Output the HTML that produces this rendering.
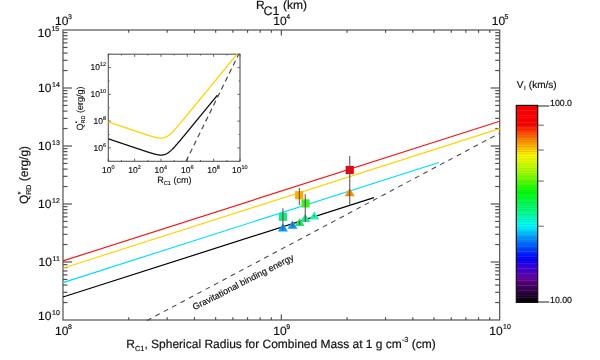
<!DOCTYPE html>
<html><head><meta charset="utf-8"><title>Q*RD vs RC1</title>
<style>
html,body{margin:0;padding:0;background:#fff;}
body{width:600px;height:360px;overflow:hidden;font-family:'Liberation Sans', sans-serif;}
svg{display:block;}
svg text{font-family:"Liberation Sans",sans-serif;text-rendering:geometricPrecision;stroke:#111;stroke-width:0.18px;}
svg g.sm text{stroke-width:0.14px;}
</style></head>
<body>
<svg width="600" height="360" viewBox="0 0 600 360">
<defs><filter id="soft" x="0" y="0" width="600" height="360" filterUnits="userSpaceOnUse" color-interpolation-filters="sRGB"><feGaussianBlur stdDeviation="0.35"/></filter></defs>
<rect width="600" height="360" fill="#ffffff"/>
<g filter="url(#soft)">
<rect x="63.0" y="30.0" width="436.70" height="290.00" fill="none" stroke="#525252" stroke-width="1.2"/>
<line x1="128.73" y1="320.00" x2="128.73" y2="317.20" stroke="#525252" stroke-width="1.2" />
<line x1="128.73" y1="30.00" x2="128.73" y2="32.80" stroke="#525252" stroke-width="1.2" />
<line x1="167.18" y1="320.00" x2="167.18" y2="317.20" stroke="#525252" stroke-width="1.2" />
<line x1="167.18" y1="30.00" x2="167.18" y2="32.80" stroke="#525252" stroke-width="1.2" />
<line x1="194.46" y1="320.00" x2="194.46" y2="317.20" stroke="#525252" stroke-width="1.2" />
<line x1="194.46" y1="30.00" x2="194.46" y2="32.80" stroke="#525252" stroke-width="1.2" />
<line x1="215.62" y1="320.00" x2="215.62" y2="317.20" stroke="#525252" stroke-width="1.2" />
<line x1="215.62" y1="30.00" x2="215.62" y2="32.80" stroke="#525252" stroke-width="1.2" />
<line x1="232.91" y1="320.00" x2="232.91" y2="317.20" stroke="#525252" stroke-width="1.2" />
<line x1="232.91" y1="30.00" x2="232.91" y2="32.80" stroke="#525252" stroke-width="1.2" />
<line x1="247.53" y1="320.00" x2="247.53" y2="317.20" stroke="#525252" stroke-width="1.2" />
<line x1="247.53" y1="30.00" x2="247.53" y2="32.80" stroke="#525252" stroke-width="1.2" />
<line x1="260.19" y1="320.00" x2="260.19" y2="317.20" stroke="#525252" stroke-width="1.2" />
<line x1="260.19" y1="30.00" x2="260.19" y2="32.80" stroke="#525252" stroke-width="1.2" />
<line x1="271.36" y1="320.00" x2="271.36" y2="317.20" stroke="#525252" stroke-width="1.2" />
<line x1="271.36" y1="30.00" x2="271.36" y2="32.80" stroke="#525252" stroke-width="1.2" />
<line x1="281.35" y1="320.00" x2="281.35" y2="314.40" stroke="#525252" stroke-width="1.2" />
<line x1="281.35" y1="30.00" x2="281.35" y2="35.60" stroke="#525252" stroke-width="1.2" />
<line x1="347.08" y1="320.00" x2="347.08" y2="317.20" stroke="#525252" stroke-width="1.2" />
<line x1="347.08" y1="30.00" x2="347.08" y2="32.80" stroke="#525252" stroke-width="1.2" />
<line x1="385.53" y1="320.00" x2="385.53" y2="317.20" stroke="#525252" stroke-width="1.2" />
<line x1="385.53" y1="30.00" x2="385.53" y2="32.80" stroke="#525252" stroke-width="1.2" />
<line x1="412.81" y1="320.00" x2="412.81" y2="317.20" stroke="#525252" stroke-width="1.2" />
<line x1="412.81" y1="30.00" x2="412.81" y2="32.80" stroke="#525252" stroke-width="1.2" />
<line x1="433.97" y1="320.00" x2="433.97" y2="317.20" stroke="#525252" stroke-width="1.2" />
<line x1="433.97" y1="30.00" x2="433.97" y2="32.80" stroke="#525252" stroke-width="1.2" />
<line x1="451.26" y1="320.00" x2="451.26" y2="317.20" stroke="#525252" stroke-width="1.2" />
<line x1="451.26" y1="30.00" x2="451.26" y2="32.80" stroke="#525252" stroke-width="1.2" />
<line x1="465.88" y1="320.00" x2="465.88" y2="317.20" stroke="#525252" stroke-width="1.2" />
<line x1="465.88" y1="30.00" x2="465.88" y2="32.80" stroke="#525252" stroke-width="1.2" />
<line x1="478.54" y1="320.00" x2="478.54" y2="317.20" stroke="#525252" stroke-width="1.2" />
<line x1="478.54" y1="30.00" x2="478.54" y2="32.80" stroke="#525252" stroke-width="1.2" />
<line x1="489.71" y1="320.00" x2="489.71" y2="317.20" stroke="#525252" stroke-width="1.2" />
<line x1="489.71" y1="30.00" x2="489.71" y2="32.80" stroke="#525252" stroke-width="1.2" />
<line x1="63.00" y1="302.54" x2="67.50" y2="302.54" stroke="#525252" stroke-width="1.2" />
<line x1="499.70" y1="302.54" x2="495.20" y2="302.54" stroke="#525252" stroke-width="1.2" />
<line x1="63.00" y1="292.33" x2="67.50" y2="292.33" stroke="#525252" stroke-width="1.2" />
<line x1="499.70" y1="292.33" x2="495.20" y2="292.33" stroke="#525252" stroke-width="1.2" />
<line x1="63.00" y1="285.08" x2="67.50" y2="285.08" stroke="#525252" stroke-width="1.2" />
<line x1="499.70" y1="285.08" x2="495.20" y2="285.08" stroke="#525252" stroke-width="1.2" />
<line x1="63.00" y1="279.46" x2="67.50" y2="279.46" stroke="#525252" stroke-width="1.2" />
<line x1="499.70" y1="279.46" x2="495.20" y2="279.46" stroke="#525252" stroke-width="1.2" />
<line x1="63.00" y1="274.87" x2="67.50" y2="274.87" stroke="#525252" stroke-width="1.2" />
<line x1="499.70" y1="274.87" x2="495.20" y2="274.87" stroke="#525252" stroke-width="1.2" />
<line x1="63.00" y1="270.98" x2="67.50" y2="270.98" stroke="#525252" stroke-width="1.2" />
<line x1="499.70" y1="270.98" x2="495.20" y2="270.98" stroke="#525252" stroke-width="1.2" />
<line x1="63.00" y1="267.62" x2="67.50" y2="267.62" stroke="#525252" stroke-width="1.2" />
<line x1="499.70" y1="267.62" x2="495.20" y2="267.62" stroke="#525252" stroke-width="1.2" />
<line x1="63.00" y1="264.65" x2="67.50" y2="264.65" stroke="#525252" stroke-width="1.2" />
<line x1="499.70" y1="264.65" x2="495.20" y2="264.65" stroke="#525252" stroke-width="1.2" />
<line x1="63.00" y1="262.00" x2="72.00" y2="262.00" stroke="#525252" stroke-width="1.2" />
<line x1="499.70" y1="262.00" x2="490.70" y2="262.00" stroke="#525252" stroke-width="1.2" />
<line x1="63.00" y1="244.54" x2="67.50" y2="244.54" stroke="#525252" stroke-width="1.2" />
<line x1="499.70" y1="244.54" x2="495.20" y2="244.54" stroke="#525252" stroke-width="1.2" />
<line x1="63.00" y1="234.33" x2="67.50" y2="234.33" stroke="#525252" stroke-width="1.2" />
<line x1="499.70" y1="234.33" x2="495.20" y2="234.33" stroke="#525252" stroke-width="1.2" />
<line x1="63.00" y1="227.08" x2="67.50" y2="227.08" stroke="#525252" stroke-width="1.2" />
<line x1="499.70" y1="227.08" x2="495.20" y2="227.08" stroke="#525252" stroke-width="1.2" />
<line x1="63.00" y1="221.46" x2="67.50" y2="221.46" stroke="#525252" stroke-width="1.2" />
<line x1="499.70" y1="221.46" x2="495.20" y2="221.46" stroke="#525252" stroke-width="1.2" />
<line x1="63.00" y1="216.87" x2="67.50" y2="216.87" stroke="#525252" stroke-width="1.2" />
<line x1="499.70" y1="216.87" x2="495.20" y2="216.87" stroke="#525252" stroke-width="1.2" />
<line x1="63.00" y1="212.98" x2="67.50" y2="212.98" stroke="#525252" stroke-width="1.2" />
<line x1="499.70" y1="212.98" x2="495.20" y2="212.98" stroke="#525252" stroke-width="1.2" />
<line x1="63.00" y1="209.62" x2="67.50" y2="209.62" stroke="#525252" stroke-width="1.2" />
<line x1="499.70" y1="209.62" x2="495.20" y2="209.62" stroke="#525252" stroke-width="1.2" />
<line x1="63.00" y1="206.65" x2="67.50" y2="206.65" stroke="#525252" stroke-width="1.2" />
<line x1="499.70" y1="206.65" x2="495.20" y2="206.65" stroke="#525252" stroke-width="1.2" />
<line x1="63.00" y1="204.00" x2="72.00" y2="204.00" stroke="#525252" stroke-width="1.2" />
<line x1="499.70" y1="204.00" x2="490.70" y2="204.00" stroke="#525252" stroke-width="1.2" />
<line x1="63.00" y1="186.54" x2="67.50" y2="186.54" stroke="#525252" stroke-width="1.2" />
<line x1="499.70" y1="186.54" x2="495.20" y2="186.54" stroke="#525252" stroke-width="1.2" />
<line x1="63.00" y1="176.33" x2="67.50" y2="176.33" stroke="#525252" stroke-width="1.2" />
<line x1="499.70" y1="176.33" x2="495.20" y2="176.33" stroke="#525252" stroke-width="1.2" />
<line x1="63.00" y1="169.08" x2="67.50" y2="169.08" stroke="#525252" stroke-width="1.2" />
<line x1="499.70" y1="169.08" x2="495.20" y2="169.08" stroke="#525252" stroke-width="1.2" />
<line x1="63.00" y1="163.46" x2="67.50" y2="163.46" stroke="#525252" stroke-width="1.2" />
<line x1="499.70" y1="163.46" x2="495.20" y2="163.46" stroke="#525252" stroke-width="1.2" />
<line x1="63.00" y1="158.87" x2="67.50" y2="158.87" stroke="#525252" stroke-width="1.2" />
<line x1="499.70" y1="158.87" x2="495.20" y2="158.87" stroke="#525252" stroke-width="1.2" />
<line x1="63.00" y1="154.98" x2="67.50" y2="154.98" stroke="#525252" stroke-width="1.2" />
<line x1="499.70" y1="154.98" x2="495.20" y2="154.98" stroke="#525252" stroke-width="1.2" />
<line x1="63.00" y1="151.62" x2="67.50" y2="151.62" stroke="#525252" stroke-width="1.2" />
<line x1="499.70" y1="151.62" x2="495.20" y2="151.62" stroke="#525252" stroke-width="1.2" />
<line x1="63.00" y1="148.65" x2="67.50" y2="148.65" stroke="#525252" stroke-width="1.2" />
<line x1="499.70" y1="148.65" x2="495.20" y2="148.65" stroke="#525252" stroke-width="1.2" />
<line x1="63.00" y1="146.00" x2="72.00" y2="146.00" stroke="#525252" stroke-width="1.2" />
<line x1="499.70" y1="146.00" x2="490.70" y2="146.00" stroke="#525252" stroke-width="1.2" />
<line x1="63.00" y1="128.54" x2="67.50" y2="128.54" stroke="#525252" stroke-width="1.2" />
<line x1="499.70" y1="128.54" x2="495.20" y2="128.54" stroke="#525252" stroke-width="1.2" />
<line x1="63.00" y1="118.33" x2="67.50" y2="118.33" stroke="#525252" stroke-width="1.2" />
<line x1="499.70" y1="118.33" x2="495.20" y2="118.33" stroke="#525252" stroke-width="1.2" />
<line x1="63.00" y1="111.08" x2="67.50" y2="111.08" stroke="#525252" stroke-width="1.2" />
<line x1="499.70" y1="111.08" x2="495.20" y2="111.08" stroke="#525252" stroke-width="1.2" />
<line x1="63.00" y1="105.46" x2="67.50" y2="105.46" stroke="#525252" stroke-width="1.2" />
<line x1="499.70" y1="105.46" x2="495.20" y2="105.46" stroke="#525252" stroke-width="1.2" />
<line x1="63.00" y1="100.87" x2="67.50" y2="100.87" stroke="#525252" stroke-width="1.2" />
<line x1="499.70" y1="100.87" x2="495.20" y2="100.87" stroke="#525252" stroke-width="1.2" />
<line x1="63.00" y1="96.98" x2="67.50" y2="96.98" stroke="#525252" stroke-width="1.2" />
<line x1="499.70" y1="96.98" x2="495.20" y2="96.98" stroke="#525252" stroke-width="1.2" />
<line x1="63.00" y1="93.62" x2="67.50" y2="93.62" stroke="#525252" stroke-width="1.2" />
<line x1="499.70" y1="93.62" x2="495.20" y2="93.62" stroke="#525252" stroke-width="1.2" />
<line x1="63.00" y1="90.65" x2="67.50" y2="90.65" stroke="#525252" stroke-width="1.2" />
<line x1="499.70" y1="90.65" x2="495.20" y2="90.65" stroke="#525252" stroke-width="1.2" />
<line x1="63.00" y1="88.00" x2="72.00" y2="88.00" stroke="#525252" stroke-width="1.2" />
<line x1="499.70" y1="88.00" x2="490.70" y2="88.00" stroke="#525252" stroke-width="1.2" />
<line x1="63.00" y1="70.54" x2="67.50" y2="70.54" stroke="#525252" stroke-width="1.2" />
<line x1="499.70" y1="70.54" x2="495.20" y2="70.54" stroke="#525252" stroke-width="1.2" />
<line x1="63.00" y1="60.33" x2="67.50" y2="60.33" stroke="#525252" stroke-width="1.2" />
<line x1="499.70" y1="60.33" x2="495.20" y2="60.33" stroke="#525252" stroke-width="1.2" />
<line x1="63.00" y1="53.08" x2="67.50" y2="53.08" stroke="#525252" stroke-width="1.2" />
<line x1="499.70" y1="53.08" x2="495.20" y2="53.08" stroke="#525252" stroke-width="1.2" />
<line x1="63.00" y1="47.46" x2="67.50" y2="47.46" stroke="#525252" stroke-width="1.2" />
<line x1="499.70" y1="47.46" x2="495.20" y2="47.46" stroke="#525252" stroke-width="1.2" />
<line x1="63.00" y1="42.87" x2="67.50" y2="42.87" stroke="#525252" stroke-width="1.2" />
<line x1="499.70" y1="42.87" x2="495.20" y2="42.87" stroke="#525252" stroke-width="1.2" />
<line x1="63.00" y1="38.98" x2="67.50" y2="38.98" stroke="#525252" stroke-width="1.2" />
<line x1="499.70" y1="38.98" x2="495.20" y2="38.98" stroke="#525252" stroke-width="1.2" />
<line x1="63.00" y1="35.62" x2="67.50" y2="35.62" stroke="#525252" stroke-width="1.2" />
<line x1="499.70" y1="35.62" x2="495.20" y2="35.62" stroke="#525252" stroke-width="1.2" />
<line x1="63.00" y1="32.65" x2="67.50" y2="32.65" stroke="#525252" stroke-width="1.2" />
<line x1="499.70" y1="32.65" x2="495.20" y2="32.65" stroke="#525252" stroke-width="1.2" />
<text x="63.40" y="335.00" font-size="12" text-anchor="middle" fill="#111">10<tspan font-size="7.0" dy="-6.1" dx="-0.5">8</tspan></text>
<text x="281.75" y="335.00" font-size="12" text-anchor="middle" fill="#111">10<tspan font-size="7.0" dy="-6.1" dx="-0.5">9</tspan></text>
<text x="500.10" y="335.00" font-size="12" text-anchor="middle" fill="#111">10<tspan font-size="7.0" dy="-6.1" dx="0.4">10</tspan></text>
<text x="63.40" y="25.00" font-size="12" text-anchor="middle" fill="#111">10<tspan font-size="7.0" dy="-5.7" dx="-0.5">3</tspan></text>
<text x="281.75" y="25.00" font-size="12" text-anchor="middle" fill="#111">10<tspan font-size="7.0" dy="-5.7" dx="-0.5">4</tspan></text>
<text x="500.10" y="25.00" font-size="12" text-anchor="middle" fill="#111">10<tspan font-size="7.0" dy="-5.7" dx="-0.5">5</tspan></text>
<text x="59.80" y="320.20" font-size="12" text-anchor="end" fill="#111">10<tspan font-size="7.0" dy="-5.0" dx="0.6">10</tspan></text>
<text x="59.80" y="265.80" font-size="12" text-anchor="end" fill="#111">10<tspan font-size="7.0" dy="-5.0" dx="0.6">11</tspan></text>
<text x="59.80" y="207.80" font-size="12" text-anchor="end" fill="#111">10<tspan font-size="7.0" dy="-5.0" dx="0.6">12</tspan></text>
<text x="59.80" y="149.80" font-size="12" text-anchor="end" fill="#111">10<tspan font-size="7.0" dy="-5.0" dx="0.6">13</tspan></text>
<text x="59.80" y="91.80" font-size="12" text-anchor="end" fill="#111">10<tspan font-size="7.0" dy="-5.0" dx="0.6">14</tspan></text>
<text x="59.20" y="37.20" font-size="12" text-anchor="end" fill="#111">10<tspan font-size="7.0" dy="-5.8" dx="0.3">15</tspan></text>
<text x="281.05" y="347.8" font-size="12" text-anchor="middle" fill="#111">R<tspan font-size="7.4" dy="3">C1</tspan><tspan font-size="12" dy="-3">, Spherical Radius for Combined Mass at 1 g cm</tspan><tspan font-size="7.4" dy="-5.4">-3</tspan><tspan font-size="12" dy="5.4"> (cm)</tspan></text>
<text x="255.9" y="8.8" font-size="12" fill="#111">R</text>
<text x="263.4" y="15.0" font-size="12.5" fill="#111">C1</text>
<text x="283.0" y="8.8" font-size="12" fill="#111">(km)</text>
<g transform="translate(27.6,175.00) rotate(-90)"><text x="0" y="0" font-size="12" text-anchor="middle" fill="#111">Q<tspan font-size="7" dy="3.6">RD</tspan><tspan font-size="12" dy="-3.6"> (erg/g)</tspan></text><text x="-19.4" y="-4.6" font-size="7.5" fill="#111">*</text></g>
<line x1="147.00" y1="320.53" x2="499.70" y2="133.16" stroke="#464646" stroke-width="1.05" stroke-dasharray="4.9 4.58"/>
<line x1="63.00" y1="297.00" x2="373.90" y2="197.61" stroke="#000000" stroke-width="1.2" />
<line x1="63.00" y1="282.60" x2="438.90" y2="162.43" stroke="#00dcff" stroke-width="1.15" />
<line x1="63.00" y1="268.20" x2="499.70" y2="128.59" stroke="#ffd200" stroke-width="1.15" />
<line x1="63.00" y1="260.90" x2="499.70" y2="121.29" stroke="#f51414" stroke-width="1.15" />
<text transform="translate(194.6,310.3) rotate(-27.0)" font-size="9" fill="#111">Gravitational binding energy</text>
<rect x="345.60" y="165.90" width="8.2" height="8.2" fill="#f00010"/>
<polygon points="349.70,188.00 344.70,196.20 354.70,196.20" fill="#ff8c00"/>
<line x1="349.70" y1="156.00" x2="349.70" y2="205.00" stroke="#505050" stroke-width="1.3" stroke-opacity="0.8"/>
<rect x="295.10" y="191.10" width="8.2" height="8.2" fill="#ffaa00"/>
<line x1="299.40" y1="188.00" x2="299.40" y2="205.00" stroke="#505050" stroke-width="1.3" stroke-opacity="0.8"/>
<rect x="301.40" y="199.30" width="8.2" height="8.2" fill="#3cf01e"/>
<polygon points="305.30,213.70 300.30,221.90 310.30,221.90" fill="#1ee68c"/>
<line x1="305.30" y1="194.20" x2="305.30" y2="221.80" stroke="#505050" stroke-width="1.3" stroke-opacity="0.8"/>
<rect x="278.90" y="212.70" width="8.2" height="8.2" fill="#1ee682"/>
<polygon points="282.90,223.20 277.90,231.40 287.90,231.40" fill="#0a96ff"/>
<line x1="282.90" y1="208.30" x2="282.90" y2="230.00" stroke="#505050" stroke-width="1.3" stroke-opacity="0.8"/>
<polygon points="292.50,220.60 287.50,228.80 297.50,228.80" fill="#1496ff"/>
<line x1="292.50" y1="222.50" x2="292.50" y2="227.50" stroke="#505050" stroke-width="1.3" stroke-opacity="0.8"/>
<polygon points="299.60,217.90 294.60,226.10 304.60,226.10" fill="#1ee66e"/>
<line x1="299.60" y1="220.80" x2="299.60" y2="225.00" stroke="#505050" stroke-width="1.3" stroke-opacity="0.8"/>
<polygon points="314.30,211.20 309.30,219.40 319.30,219.40" fill="#28f0b4"/>
<line x1="314.30" y1="215.00" x2="314.30" y2="216.80" stroke="#505050" stroke-width="1.3" stroke-opacity="0.8"/>
<g class="sm">
<rect x="108.3" y="54.2" width="131.70" height="107.10" fill="#fff" stroke="#555" stroke-width="1.1"/>
<line x1="108.30" y1="161.30" x2="108.30" y2="158.70" stroke="#555" stroke-width="0.9" />
<line x1="108.30" y1="54.20" x2="108.30" y2="56.80" stroke="#555" stroke-width="0.9" />
<line x1="121.47" y1="161.30" x2="121.47" y2="160.00" stroke="#555" stroke-width="0.9" />
<line x1="121.47" y1="54.20" x2="121.47" y2="55.50" stroke="#555" stroke-width="0.9" />
<line x1="134.64" y1="161.30" x2="134.64" y2="158.70" stroke="#555" stroke-width="0.9" />
<line x1="134.64" y1="54.20" x2="134.64" y2="56.80" stroke="#555" stroke-width="0.9" />
<line x1="147.81" y1="161.30" x2="147.81" y2="160.00" stroke="#555" stroke-width="0.9" />
<line x1="147.81" y1="54.20" x2="147.81" y2="55.50" stroke="#555" stroke-width="0.9" />
<line x1="160.98" y1="161.30" x2="160.98" y2="158.70" stroke="#555" stroke-width="0.9" />
<line x1="160.98" y1="54.20" x2="160.98" y2="56.80" stroke="#555" stroke-width="0.9" />
<line x1="174.15" y1="161.30" x2="174.15" y2="160.00" stroke="#555" stroke-width="0.9" />
<line x1="174.15" y1="54.20" x2="174.15" y2="55.50" stroke="#555" stroke-width="0.9" />
<line x1="187.32" y1="161.30" x2="187.32" y2="158.70" stroke="#555" stroke-width="0.9" />
<line x1="187.32" y1="54.20" x2="187.32" y2="56.80" stroke="#555" stroke-width="0.9" />
<line x1="200.49" y1="161.30" x2="200.49" y2="160.00" stroke="#555" stroke-width="0.9" />
<line x1="200.49" y1="54.20" x2="200.49" y2="55.50" stroke="#555" stroke-width="0.9" />
<line x1="213.66" y1="161.30" x2="213.66" y2="158.70" stroke="#555" stroke-width="0.9" />
<line x1="213.66" y1="54.20" x2="213.66" y2="56.80" stroke="#555" stroke-width="0.9" />
<line x1="226.83" y1="161.30" x2="226.83" y2="160.00" stroke="#555" stroke-width="0.9" />
<line x1="226.83" y1="54.20" x2="226.83" y2="55.50" stroke="#555" stroke-width="0.9" />
<line x1="240.00" y1="161.30" x2="240.00" y2="158.70" stroke="#555" stroke-width="0.9" />
<line x1="240.00" y1="54.20" x2="240.00" y2="56.80" stroke="#555" stroke-width="0.9" />
<line x1="108.30" y1="161.30" x2="109.60" y2="161.30" stroke="#555" stroke-width="0.9" />
<line x1="240.00" y1="161.30" x2="238.70" y2="161.30" stroke="#555" stroke-width="0.9" />
<line x1="108.30" y1="147.91" x2="110.90" y2="147.91" stroke="#555" stroke-width="0.9" />
<line x1="240.00" y1="147.91" x2="237.40" y2="147.91" stroke="#555" stroke-width="0.9" />
<line x1="108.30" y1="134.53" x2="109.60" y2="134.53" stroke="#555" stroke-width="0.9" />
<line x1="240.00" y1="134.53" x2="238.70" y2="134.53" stroke="#555" stroke-width="0.9" />
<line x1="108.30" y1="121.14" x2="110.90" y2="121.14" stroke="#555" stroke-width="0.9" />
<line x1="240.00" y1="121.14" x2="237.40" y2="121.14" stroke="#555" stroke-width="0.9" />
<line x1="108.30" y1="107.75" x2="109.60" y2="107.75" stroke="#555" stroke-width="0.9" />
<line x1="240.00" y1="107.75" x2="238.70" y2="107.75" stroke="#555" stroke-width="0.9" />
<line x1="108.30" y1="94.36" x2="110.90" y2="94.36" stroke="#555" stroke-width="0.9" />
<line x1="240.00" y1="94.36" x2="237.40" y2="94.36" stroke="#555" stroke-width="0.9" />
<line x1="108.30" y1="80.98" x2="109.60" y2="80.98" stroke="#555" stroke-width="0.9" />
<line x1="240.00" y1="80.98" x2="238.70" y2="80.98" stroke="#555" stroke-width="0.9" />
<line x1="108.30" y1="67.59" x2="110.90" y2="67.59" stroke="#555" stroke-width="0.9" />
<line x1="240.00" y1="67.59" x2="237.40" y2="67.59" stroke="#555" stroke-width="0.9" />
<line x1="108.30" y1="54.20" x2="109.60" y2="54.20" stroke="#555" stroke-width="0.9" />
<line x1="240.00" y1="54.20" x2="238.70" y2="54.20" stroke="#555" stroke-width="0.9" />
<text x="108.20" y="173.00" font-size="8.5" text-anchor="middle" fill="#111">10<tspan font-size="5.5" dy="-4.2" dx="0.0">0</tspan></text>
<text x="134.54" y="173.00" font-size="8.5" text-anchor="middle" fill="#111">10<tspan font-size="5.5" dy="-4.2" dx="0.0">2</tspan></text>
<text x="160.88" y="173.00" font-size="8.5" text-anchor="middle" fill="#111">10<tspan font-size="5.5" dy="-4.2" dx="0.0">4</tspan></text>
<text x="187.22" y="173.00" font-size="8.5" text-anchor="middle" fill="#111">10<tspan font-size="5.5" dy="-4.2" dx="0.0">6</tspan></text>
<text x="213.56" y="173.00" font-size="8.5" text-anchor="middle" fill="#111">10<tspan font-size="5.5" dy="-4.2" dx="0.0">8</tspan></text>
<text x="239.90" y="173.00" font-size="8.5" text-anchor="middle" fill="#111">10<tspan font-size="5.5" dy="-4.2" dx="0.0">10</tspan></text>
<text x="106.00" y="150.81" font-size="8.5" text-anchor="end" fill="#111">10<tspan font-size="5.5" dy="-4.2" dx="0.0">6</tspan></text>
<text x="106.00" y="124.04" font-size="8.5" text-anchor="end" fill="#111">10<tspan font-size="5.5" dy="-4.2" dx="0.0">8</tspan></text>
<text x="106.00" y="97.26" font-size="8.5" text-anchor="end" fill="#111">10<tspan font-size="5.5" dy="-4.2" dx="0.0">10</tspan></text>
<text x="106.00" y="70.49" font-size="8.5" text-anchor="end" fill="#111">10<tspan font-size="5.5" dy="-4.2" dx="0.0">12</tspan></text>
<text x="174.35" y="182.6" font-size="9" text-anchor="middle" fill="#111">R<tspan font-size="5.6" dy="2.4">C1</tspan><tspan font-size="9" dy="-2.4"> (cm)</tspan></text>
<g transform="translate(82.7,108.55) rotate(-90)"><text x="0" y="0" font-size="9" text-anchor="middle" fill="#111">Q<tspan font-size="5.6" dy="2.4">RD</tspan><tspan font-size="9" dy="-2.4"> (erg/g)</tspan></text><text x="-14.6" y="-3.4" font-size="5.5" fill="#111" stroke="none">*</text></g>
<line x1="186.00" y1="161.30" x2="238.68" y2="54.20" stroke="#4a4a4a" stroke-width="1.2" stroke-dasharray="5.2 3.7"/>
<path d="M108.30,138.81 L108.85,138.99 L109.39,139.18 L109.94,139.36 L110.48,139.54 L111.03,139.72 L111.58,139.91 L112.12,140.09 L112.67,140.27 L113.21,140.46 L113.76,140.64 L114.30,140.82 L114.85,141.01 L115.40,141.19 L115.94,141.37 L116.49,141.56 L117.03,141.74 L117.58,141.92 L118.13,142.11 L118.67,142.29 L119.22,142.47 L119.76,142.65 L120.31,142.84 L120.86,143.02 L121.40,143.20 L121.95,143.39 L122.49,143.57 L123.04,143.75 L123.59,143.94 L124.13,144.12 L124.68,144.30 L125.22,144.49 L125.77,144.67 L126.31,144.85 L126.86,145.03 L127.41,145.22 L127.95,145.40 L128.50,145.58 L129.04,145.77 L129.59,145.95 L130.14,146.13 L130.68,146.32 L131.23,146.50 L131.77,146.68 L132.32,146.87 L132.87,147.05 L133.41,147.23 L133.96,147.41 L134.50,147.60 L135.05,147.78 L135.59,147.96 L136.14,148.15 L136.69,148.33 L137.23,148.51 L137.78,148.69 L138.32,148.88 L138.87,149.06 L139.42,149.24 L139.96,149.42 L140.51,149.61 L141.05,149.79 L141.60,149.97 L142.15,150.15 L142.69,150.33 L143.24,150.51 L143.78,150.70 L144.33,150.88 L144.88,151.06 L145.42,151.24 L145.97,151.42 L146.51,151.59 L147.06,151.77 L147.60,151.95 L148.15,152.13 L148.70,152.30 L149.24,152.47 L149.79,152.65 L150.33,152.82 L150.88,152.99 L151.43,153.15 L151.97,153.32 L152.52,153.48 L153.06,153.64 L153.61,153.79 L154.16,153.94 L154.70,154.08 L155.25,154.22 L155.79,154.35 L156.34,154.48 L156.88,154.59 L157.43,154.70 L157.98,154.80 L158.52,154.88 L159.07,154.95 L159.61,155.01 L160.16,155.04 L160.71,155.06 L161.25,155.06 L161.80,155.04 L162.34,155.00 L162.89,154.92 L163.44,154.83 L163.98,154.70 L164.53,154.55 L165.07,154.36 L165.62,154.15 L166.17,153.90 L166.71,153.62 L167.26,153.31 L167.80,152.98 L168.35,152.61 L168.89,152.22 L169.44,151.79 L169.99,151.35 L170.53,150.88 L171.08,150.39 L171.62,149.88 L172.17,149.36 L172.72,148.81 L173.26,148.26 L173.81,147.68 L174.35,147.10 L174.90,146.51 L175.45,145.91 L175.99,145.30 L176.54,144.68 L177.08,144.06 L177.63,143.43 L178.17,142.79 L178.72,142.16 L179.27,141.51 L179.81,140.87 L180.36,140.22 L180.90,139.57 L181.45,138.92 L182.00,138.27 L182.54,137.61 L183.09,136.95 L183.63,136.30 L184.18,135.64 L184.73,134.98 L185.27,134.31 L185.82,133.65 L186.36,132.99 L186.91,132.33 L187.45,131.67 L188.00,131.00 L188.55,130.34 L189.09,129.67 L189.64,129.01 L190.18,128.34 L190.73,127.68 L191.28,127.02 L191.82,126.35 L192.37,125.69 L192.91,125.02 L193.46,124.35 L194.01,123.69 L194.55,123.02 L195.10,122.36 L195.64,121.69 L196.19,121.03 L196.74,120.36 L197.28,119.70 L197.83,119.03 L198.37,118.36 L198.92,117.70 L199.46,117.03 L200.01,116.37 L200.56,115.70 L201.10,115.04 L201.65,114.37 L202.19,113.70 L202.74,113.04 L203.29,112.37 L203.83,111.71 L204.38,111.04 L204.92,110.37 L205.47,109.71 L206.02,109.04 L206.56,108.38 L207.11,107.71 L207.65,107.04 L208.20,106.38 L208.74,105.71 L209.29,105.05 L209.84,104.38 L210.38,103.72 L210.93,103.05 L211.47,102.38 L212.02,101.72 L212.57,101.05 L213.11,100.39 L213.66,99.72 L214.20,99.05 L214.75,98.39 L215.30,97.72 L215.84,97.06 L216.39,96.39 L216.93,95.72 L217.48,95.06" fill="none" stroke="#111" stroke-width="1.3" stroke-linejoin="round"/>
<path d="M108.30,121.94 L108.94,122.16 L109.59,122.37 L110.23,122.59 L110.87,122.80 L111.52,123.02 L112.16,123.24 L112.80,123.45 L113.45,123.67 L114.09,123.88 L114.73,124.10 L115.38,124.31 L116.02,124.53 L116.66,124.75 L117.31,124.96 L117.95,125.18 L118.59,125.39 L119.24,125.61 L119.88,125.83 L120.52,126.04 L121.17,126.26 L121.81,126.47 L122.45,126.69 L123.10,126.90 L123.74,127.12 L124.38,127.34 L125.03,127.55 L125.67,127.77 L126.31,127.98 L126.96,128.20 L127.60,128.41 L128.24,128.63 L128.89,128.85 L129.53,129.06 L130.17,129.28 L130.82,129.49 L131.46,129.71 L132.10,129.93 L132.75,130.14 L133.39,130.36 L134.03,130.57 L134.68,130.79 L135.32,131.00 L135.96,131.22 L136.61,131.43 L137.25,131.65 L137.89,131.86 L138.54,132.08 L139.18,132.29 L139.82,132.51 L140.47,132.72 L141.11,132.94 L141.75,133.15 L142.40,133.37 L143.04,133.58 L143.68,133.79 L144.33,134.01 L144.97,134.22 L145.61,134.43 L146.26,134.64 L146.90,134.85 L147.54,135.06 L148.19,135.27 L148.83,135.47 L149.47,135.68 L150.12,135.88 L150.76,136.08 L151.40,136.27 L152.05,136.47 L152.69,136.65 L153.33,136.84 L153.98,137.01 L154.62,137.18 L155.26,137.35 L155.91,137.50 L156.55,137.64 L157.19,137.77 L157.84,137.88 L158.48,137.98 L159.13,138.06 L159.77,138.11 L160.41,138.15 L161.06,138.15 L161.70,138.12 L162.34,138.07 L162.99,137.97 L163.63,137.84 L164.27,137.67 L164.92,137.45 L165.56,137.20 L166.20,136.90 L166.85,136.56 L167.49,136.17 L168.13,135.75 L168.78,135.29 L169.42,134.79 L170.06,134.25 L170.71,133.69 L171.35,133.10 L171.99,132.48 L172.64,131.84 L173.28,131.18 L173.92,130.50 L174.57,129.81 L175.21,129.10 L175.85,128.38 L176.50,127.66 L177.14,126.92 L177.78,126.18 L178.43,125.43 L179.07,124.67 L179.71,123.91 L180.36,123.15 L181.00,122.38 L181.64,121.61 L182.29,120.84 L182.93,120.06 L183.57,119.29 L184.22,118.51 L184.86,117.73 L185.50,116.95 L186.15,116.17 L186.79,115.39 L187.43,114.61 L188.08,113.83 L188.72,113.05 L189.36,112.26 L190.01,111.48 L190.65,110.70 L191.29,109.91 L191.94,109.13 L192.58,108.35 L193.22,107.56 L193.87,106.78 L194.51,105.99 L195.15,105.21 L195.80,104.42 L196.44,103.64 L197.08,102.85 L197.73,102.07 L198.37,101.29 L199.01,100.50 L199.66,99.72 L200.30,98.93 L200.94,98.15 L201.59,97.36 L202.23,96.58 L202.87,95.79 L203.52,95.01 L204.16,94.22 L204.80,93.44 L205.45,92.65 L206.09,91.87 L206.73,91.08 L207.38,90.30 L208.02,89.51 L208.66,88.73 L209.31,87.95 L209.95,87.16 L210.59,86.38 L211.24,85.59 L211.88,84.81 L212.52,84.02 L213.17,83.24 L213.81,82.45 L214.45,81.67 L215.10,80.88 L215.74,80.10 L216.38,79.31 L217.03,78.53 L217.67,77.74 L218.31,76.96 L218.96,76.17 L219.60,75.39 L220.24,74.60 L220.89,73.82 L221.53,73.03 L222.17,72.25 L222.82,71.47 L223.46,70.68 L224.10,69.90 L224.75,69.11 L225.39,68.33 L226.03,67.54 L226.68,66.76 L227.32,65.97 L227.96,65.19 L228.61,64.40 L229.25,63.62 L229.89,62.83 L230.54,62.05 L231.18,61.26 L231.82,60.48 L232.47,59.69 L233.11,58.91 L233.75,58.12 L234.40,57.34 L235.04,56.55 L235.68,55.77 L236.33,54.98 L236.97,54.20" fill="none" stroke="#ffd200" stroke-width="1.3" stroke-linejoin="round"/>
</g>
<rect x="516.3" y="299.97" width="21.40" height="2.73" fill="rgb(5,0,7)"/>
<rect x="516.3" y="297.54" width="21.40" height="2.73" fill="rgb(16,0,22)"/>
<rect x="516.3" y="295.10" width="21.40" height="2.73" fill="rgb(27,0,36)"/>
<rect x="516.3" y="292.67" width="21.40" height="2.73" fill="rgb(37,0,50)"/>
<rect x="516.3" y="290.24" width="21.40" height="2.73" fill="rgb(48,0,65)"/>
<rect x="516.3" y="287.81" width="21.40" height="2.73" fill="rgb(58,0,81)"/>
<rect x="516.3" y="285.38" width="21.40" height="2.73" fill="rgb(68,0,97)"/>
<rect x="516.3" y="282.94" width="21.40" height="2.73" fill="rgb(78,0,113)"/>
<rect x="516.3" y="280.51" width="21.40" height="2.73" fill="rgb(88,0,130)"/>
<rect x="516.3" y="278.08" width="21.40" height="2.73" fill="rgb(98,0,146)"/>
<rect x="516.3" y="275.65" width="21.40" height="2.73" fill="rgb(94,0,162)"/>
<rect x="516.3" y="273.21" width="21.40" height="2.73" fill="rgb(86,0,178)"/>
<rect x="516.3" y="270.78" width="21.40" height="2.73" fill="rgb(78,0,194)"/>
<rect x="516.3" y="268.35" width="21.40" height="2.73" fill="rgb(69,0,209)"/>
<rect x="516.3" y="265.92" width="21.40" height="2.73" fill="rgb(59,0,223)"/>
<rect x="516.3" y="263.49" width="21.40" height="2.73" fill="rgb(43,0,231)"/>
<rect x="516.3" y="261.05" width="21.40" height="2.73" fill="rgb(27,0,240)"/>
<rect x="516.3" y="258.62" width="21.40" height="2.73" fill="rgb(11,0,249)"/>
<rect x="516.3" y="256.19" width="21.40" height="2.73" fill="rgb(0,5,255)"/>
<rect x="516.3" y="253.76" width="21.40" height="2.73" fill="rgb(0,22,255)"/>
<rect x="516.3" y="251.33" width="21.40" height="2.73" fill="rgb(0,40,255)"/>
<rect x="516.3" y="248.89" width="21.40" height="2.73" fill="rgb(0,58,255)"/>
<rect x="516.3" y="246.46" width="21.40" height="2.73" fill="rgb(0,75,255)"/>
<rect x="516.3" y="244.03" width="21.40" height="2.73" fill="rgb(0,93,255)"/>
<rect x="516.3" y="241.60" width="21.40" height="2.73" fill="rgb(0,110,255)"/>
<rect x="516.3" y="239.17" width="21.40" height="2.73" fill="rgb(0,128,255)"/>
<rect x="516.3" y="236.73" width="21.40" height="2.73" fill="rgb(0,149,255)"/>
<rect x="516.3" y="234.30" width="21.40" height="2.73" fill="rgb(0,169,255)"/>
<rect x="516.3" y="231.87" width="21.40" height="2.73" fill="rgb(0,190,255)"/>
<rect x="516.3" y="229.44" width="21.40" height="2.73" fill="rgb(0,211,255)"/>
<rect x="516.3" y="227.00" width="21.40" height="2.73" fill="rgb(0,232,255)"/>
<rect x="516.3" y="224.57" width="21.40" height="2.73" fill="rgb(0,253,255)"/>
<rect x="516.3" y="222.14" width="21.40" height="2.73" fill="rgb(0,255,237)"/>
<rect x="516.3" y="219.71" width="21.40" height="2.73" fill="rgb(0,255,218)"/>
<rect x="516.3" y="217.28" width="21.40" height="2.73" fill="rgb(0,255,198)"/>
<rect x="516.3" y="214.84" width="21.40" height="2.73" fill="rgb(0,255,178)"/>
<rect x="516.3" y="212.41" width="21.40" height="2.73" fill="rgb(0,255,159)"/>
<rect x="516.3" y="209.98" width="21.40" height="2.73" fill="rgb(0,255,139)"/>
<rect x="516.3" y="207.55" width="21.40" height="2.73" fill="rgb(0,255,121)"/>
<rect x="516.3" y="205.12" width="21.40" height="2.73" fill="rgb(0,255,104)"/>
<rect x="516.3" y="202.68" width="21.40" height="2.73" fill="rgb(0,255,88)"/>
<rect x="516.3" y="200.25" width="21.40" height="2.73" fill="rgb(0,255,71)"/>
<rect x="516.3" y="197.82" width="21.40" height="2.73" fill="rgb(0,255,54)"/>
<rect x="516.3" y="195.39" width="21.40" height="2.73" fill="rgb(0,255,38)"/>
<rect x="516.3" y="192.96" width="21.40" height="2.73" fill="rgb(0,255,21)"/>
<rect x="516.3" y="190.52" width="21.40" height="2.73" fill="rgb(0,255,4)"/>
<rect x="516.3" y="188.09" width="21.40" height="2.73" fill="rgb(15,255,0)"/>
<rect x="516.3" y="185.66" width="21.40" height="2.73" fill="rgb(36,255,0)"/>
<rect x="516.3" y="183.23" width="21.40" height="2.73" fill="rgb(57,255,0)"/>
<rect x="516.3" y="180.80" width="21.40" height="2.73" fill="rgb(78,255,0)"/>
<rect x="516.3" y="178.36" width="21.40" height="2.73" fill="rgb(98,255,0)"/>
<rect x="516.3" y="175.93" width="21.40" height="2.73" fill="rgb(119,255,0)"/>
<rect x="516.3" y="173.50" width="21.40" height="2.73" fill="rgb(140,255,0)"/>
<rect x="516.3" y="171.07" width="21.40" height="2.73" fill="rgb(161,255,0)"/>
<rect x="516.3" y="168.63" width="21.40" height="2.73" fill="rgb(174,255,0)"/>
<rect x="516.3" y="166.20" width="21.40" height="2.73" fill="rgb(188,255,0)"/>
<rect x="516.3" y="163.77" width="21.40" height="2.73" fill="rgb(202,255,0)"/>
<rect x="516.3" y="161.34" width="21.40" height="2.73" fill="rgb(216,255,0)"/>
<rect x="516.3" y="158.91" width="21.40" height="2.73" fill="rgb(230,255,0)"/>
<rect x="516.3" y="156.47" width="21.40" height="2.73" fill="rgb(243,255,0)"/>
<rect x="516.3" y="154.04" width="21.40" height="2.73" fill="rgb(255,252,0)"/>
<rect x="516.3" y="151.61" width="21.40" height="2.73" fill="rgb(255,234,0)"/>
<rect x="516.3" y="149.18" width="21.40" height="2.73" fill="rgb(255,215,0)"/>
<rect x="516.3" y="146.75" width="21.40" height="2.73" fill="rgb(255,197,0)"/>
<rect x="516.3" y="144.31" width="21.40" height="2.73" fill="rgb(255,178,0)"/>
<rect x="516.3" y="141.88" width="21.40" height="2.73" fill="rgb(255,160,0)"/>
<rect x="516.3" y="139.45" width="21.40" height="2.73" fill="rgb(255,141,0)"/>
<rect x="516.3" y="137.02" width="21.40" height="2.73" fill="rgb(255,122,0)"/>
<rect x="516.3" y="134.59" width="21.40" height="2.73" fill="rgb(255,101,0)"/>
<rect x="516.3" y="132.15" width="21.40" height="2.73" fill="rgb(255,80,0)"/>
<rect x="516.3" y="129.72" width="21.40" height="2.73" fill="rgb(255,59,0)"/>
<rect x="516.3" y="127.29" width="21.40" height="2.73" fill="rgb(255,38,0)"/>
<rect x="516.3" y="124.86" width="21.40" height="2.73" fill="rgb(255,17,0)"/>
<rect x="516.3" y="122.42" width="21.40" height="2.73" fill="rgb(255,0,0)"/>
<rect x="516.3" y="119.99" width="21.40" height="2.73" fill="rgb(255,0,0)"/>
<rect x="516.3" y="117.56" width="21.40" height="2.73" fill="rgb(255,0,0)"/>
<rect x="516.3" y="115.13" width="21.40" height="2.73" fill="rgb(255,0,0)"/>
<rect x="516.3" y="112.70" width="21.40" height="2.73" fill="rgb(255,0,0)"/>
<rect x="516.3" y="110.26" width="21.40" height="2.73" fill="rgb(255,0,0)"/>
<rect x="516.3" y="107.83" width="21.40" height="2.73" fill="rgb(255,0,0)"/>
<rect x="516.3" y="105.40" width="21.40" height="2.73" fill="rgb(255,0,0)"/>
<line x1="516.3" y1="299.97" x2="537.7" y2="299.97" stroke="#000" stroke-opacity="0.14" stroke-width="0.7"/>
<line x1="516.3" y1="297.54" x2="537.7" y2="297.54" stroke="#000" stroke-opacity="0.14" stroke-width="0.7"/>
<line x1="516.3" y1="295.10" x2="537.7" y2="295.10" stroke="#000" stroke-opacity="0.14" stroke-width="0.7"/>
<line x1="516.3" y1="292.67" x2="537.7" y2="292.67" stroke="#000" stroke-opacity="0.14" stroke-width="0.7"/>
<line x1="516.3" y1="290.24" x2="537.7" y2="290.24" stroke="#000" stroke-opacity="0.14" stroke-width="0.7"/>
<line x1="516.3" y1="287.81" x2="537.7" y2="287.81" stroke="#000" stroke-opacity="0.14" stroke-width="0.7"/>
<line x1="516.3" y1="285.38" x2="537.7" y2="285.38" stroke="#000" stroke-opacity="0.14" stroke-width="0.7"/>
<line x1="516.3" y1="282.94" x2="537.7" y2="282.94" stroke="#000" stroke-opacity="0.14" stroke-width="0.7"/>
<line x1="516.3" y1="280.51" x2="537.7" y2="280.51" stroke="#000" stroke-opacity="0.14" stroke-width="0.7"/>
<line x1="516.3" y1="278.08" x2="537.7" y2="278.08" stroke="#000" stroke-opacity="0.14" stroke-width="0.7"/>
<line x1="516.3" y1="275.65" x2="537.7" y2="275.65" stroke="#000" stroke-opacity="0.14" stroke-width="0.7"/>
<line x1="516.3" y1="273.21" x2="537.7" y2="273.21" stroke="#000" stroke-opacity="0.14" stroke-width="0.7"/>
<line x1="516.3" y1="270.78" x2="537.7" y2="270.78" stroke="#000" stroke-opacity="0.14" stroke-width="0.7"/>
<line x1="516.3" y1="268.35" x2="537.7" y2="268.35" stroke="#000" stroke-opacity="0.14" stroke-width="0.7"/>
<line x1="516.3" y1="265.92" x2="537.7" y2="265.92" stroke="#000" stroke-opacity="0.14" stroke-width="0.7"/>
<line x1="516.3" y1="263.49" x2="537.7" y2="263.49" stroke="#000" stroke-opacity="0.14" stroke-width="0.7"/>
<line x1="516.3" y1="261.05" x2="537.7" y2="261.05" stroke="#000" stroke-opacity="0.14" stroke-width="0.7"/>
<line x1="516.3" y1="258.62" x2="537.7" y2="258.62" stroke="#000" stroke-opacity="0.14" stroke-width="0.7"/>
<line x1="516.3" y1="256.19" x2="537.7" y2="256.19" stroke="#000" stroke-opacity="0.14" stroke-width="0.7"/>
<line x1="516.3" y1="253.76" x2="537.7" y2="253.76" stroke="#000" stroke-opacity="0.14" stroke-width="0.7"/>
<line x1="516.3" y1="251.33" x2="537.7" y2="251.33" stroke="#000" stroke-opacity="0.14" stroke-width="0.7"/>
<line x1="516.3" y1="248.89" x2="537.7" y2="248.89" stroke="#000" stroke-opacity="0.14" stroke-width="0.7"/>
<line x1="516.3" y1="246.46" x2="537.7" y2="246.46" stroke="#000" stroke-opacity="0.14" stroke-width="0.7"/>
<line x1="516.3" y1="244.03" x2="537.7" y2="244.03" stroke="#000" stroke-opacity="0.14" stroke-width="0.7"/>
<line x1="516.3" y1="241.60" x2="537.7" y2="241.60" stroke="#000" stroke-opacity="0.14" stroke-width="0.7"/>
<line x1="516.3" y1="239.17" x2="537.7" y2="239.17" stroke="#000" stroke-opacity="0.14" stroke-width="0.7"/>
<line x1="516.3" y1="236.73" x2="537.7" y2="236.73" stroke="#000" stroke-opacity="0.14" stroke-width="0.7"/>
<line x1="516.3" y1="234.30" x2="537.7" y2="234.30" stroke="#000" stroke-opacity="0.14" stroke-width="0.7"/>
<line x1="516.3" y1="231.87" x2="537.7" y2="231.87" stroke="#000" stroke-opacity="0.14" stroke-width="0.7"/>
<line x1="516.3" y1="229.44" x2="537.7" y2="229.44" stroke="#000" stroke-opacity="0.14" stroke-width="0.7"/>
<line x1="516.3" y1="227.00" x2="537.7" y2="227.00" stroke="#000" stroke-opacity="0.14" stroke-width="0.7"/>
<line x1="516.3" y1="224.57" x2="537.7" y2="224.57" stroke="#000" stroke-opacity="0.14" stroke-width="0.7"/>
<line x1="516.3" y1="222.14" x2="537.7" y2="222.14" stroke="#000" stroke-opacity="0.14" stroke-width="0.7"/>
<line x1="516.3" y1="219.71" x2="537.7" y2="219.71" stroke="#000" stroke-opacity="0.14" stroke-width="0.7"/>
<line x1="516.3" y1="217.28" x2="537.7" y2="217.28" stroke="#000" stroke-opacity="0.14" stroke-width="0.7"/>
<line x1="516.3" y1="214.84" x2="537.7" y2="214.84" stroke="#000" stroke-opacity="0.14" stroke-width="0.7"/>
<line x1="516.3" y1="212.41" x2="537.7" y2="212.41" stroke="#000" stroke-opacity="0.14" stroke-width="0.7"/>
<line x1="516.3" y1="209.98" x2="537.7" y2="209.98" stroke="#000" stroke-opacity="0.14" stroke-width="0.7"/>
<line x1="516.3" y1="207.55" x2="537.7" y2="207.55" stroke="#000" stroke-opacity="0.14" stroke-width="0.7"/>
<line x1="516.3" y1="205.12" x2="537.7" y2="205.12" stroke="#000" stroke-opacity="0.14" stroke-width="0.7"/>
<line x1="516.3" y1="202.68" x2="537.7" y2="202.68" stroke="#000" stroke-opacity="0.14" stroke-width="0.7"/>
<line x1="516.3" y1="200.25" x2="537.7" y2="200.25" stroke="#000" stroke-opacity="0.14" stroke-width="0.7"/>
<line x1="516.3" y1="197.82" x2="537.7" y2="197.82" stroke="#000" stroke-opacity="0.14" stroke-width="0.7"/>
<line x1="516.3" y1="195.39" x2="537.7" y2="195.39" stroke="#000" stroke-opacity="0.14" stroke-width="0.7"/>
<line x1="516.3" y1="192.96" x2="537.7" y2="192.96" stroke="#000" stroke-opacity="0.14" stroke-width="0.7"/>
<line x1="516.3" y1="190.52" x2="537.7" y2="190.52" stroke="#000" stroke-opacity="0.14" stroke-width="0.7"/>
<line x1="516.3" y1="188.09" x2="537.7" y2="188.09" stroke="#000" stroke-opacity="0.14" stroke-width="0.7"/>
<line x1="516.3" y1="185.66" x2="537.7" y2="185.66" stroke="#000" stroke-opacity="0.14" stroke-width="0.7"/>
<line x1="516.3" y1="183.23" x2="537.7" y2="183.23" stroke="#000" stroke-opacity="0.14" stroke-width="0.7"/>
<line x1="516.3" y1="180.80" x2="537.7" y2="180.80" stroke="#000" stroke-opacity="0.14" stroke-width="0.7"/>
<line x1="516.3" y1="178.36" x2="537.7" y2="178.36" stroke="#000" stroke-opacity="0.14" stroke-width="0.7"/>
<line x1="516.3" y1="175.93" x2="537.7" y2="175.93" stroke="#000" stroke-opacity="0.14" stroke-width="0.7"/>
<line x1="516.3" y1="173.50" x2="537.7" y2="173.50" stroke="#000" stroke-opacity="0.14" stroke-width="0.7"/>
<line x1="516.3" y1="171.07" x2="537.7" y2="171.07" stroke="#000" stroke-opacity="0.14" stroke-width="0.7"/>
<line x1="516.3" y1="168.63" x2="537.7" y2="168.63" stroke="#000" stroke-opacity="0.14" stroke-width="0.7"/>
<line x1="516.3" y1="166.20" x2="537.7" y2="166.20" stroke="#000" stroke-opacity="0.14" stroke-width="0.7"/>
<line x1="516.3" y1="163.77" x2="537.7" y2="163.77" stroke="#000" stroke-opacity="0.14" stroke-width="0.7"/>
<line x1="516.3" y1="161.34" x2="537.7" y2="161.34" stroke="#000" stroke-opacity="0.14" stroke-width="0.7"/>
<line x1="516.3" y1="158.91" x2="537.7" y2="158.91" stroke="#000" stroke-opacity="0.14" stroke-width="0.7"/>
<line x1="516.3" y1="156.47" x2="537.7" y2="156.47" stroke="#000" stroke-opacity="0.14" stroke-width="0.7"/>
<line x1="516.3" y1="154.04" x2="537.7" y2="154.04" stroke="#000" stroke-opacity="0.14" stroke-width="0.7"/>
<line x1="516.3" y1="151.61" x2="537.7" y2="151.61" stroke="#000" stroke-opacity="0.14" stroke-width="0.7"/>
<line x1="516.3" y1="149.18" x2="537.7" y2="149.18" stroke="#000" stroke-opacity="0.14" stroke-width="0.7"/>
<line x1="516.3" y1="146.75" x2="537.7" y2="146.75" stroke="#000" stroke-opacity="0.14" stroke-width="0.7"/>
<line x1="516.3" y1="144.31" x2="537.7" y2="144.31" stroke="#000" stroke-opacity="0.14" stroke-width="0.7"/>
<line x1="516.3" y1="141.88" x2="537.7" y2="141.88" stroke="#000" stroke-opacity="0.14" stroke-width="0.7"/>
<line x1="516.3" y1="139.45" x2="537.7" y2="139.45" stroke="#000" stroke-opacity="0.14" stroke-width="0.7"/>
<line x1="516.3" y1="137.02" x2="537.7" y2="137.02" stroke="#000" stroke-opacity="0.14" stroke-width="0.7"/>
<line x1="516.3" y1="134.59" x2="537.7" y2="134.59" stroke="#000" stroke-opacity="0.14" stroke-width="0.7"/>
<line x1="516.3" y1="132.15" x2="537.7" y2="132.15" stroke="#000" stroke-opacity="0.14" stroke-width="0.7"/>
<line x1="516.3" y1="129.72" x2="537.7" y2="129.72" stroke="#000" stroke-opacity="0.14" stroke-width="0.7"/>
<line x1="516.3" y1="127.29" x2="537.7" y2="127.29" stroke="#000" stroke-opacity="0.14" stroke-width="0.7"/>
<line x1="516.3" y1="124.86" x2="537.7" y2="124.86" stroke="#000" stroke-opacity="0.14" stroke-width="0.7"/>
<line x1="516.3" y1="122.42" x2="537.7" y2="122.42" stroke="#000" stroke-opacity="0.14" stroke-width="0.7"/>
<line x1="516.3" y1="119.99" x2="537.7" y2="119.99" stroke="#000" stroke-opacity="0.14" stroke-width="0.7"/>
<line x1="516.3" y1="117.56" x2="537.7" y2="117.56" stroke="#000" stroke-opacity="0.14" stroke-width="0.7"/>
<line x1="516.3" y1="115.13" x2="537.7" y2="115.13" stroke="#000" stroke-opacity="0.14" stroke-width="0.7"/>
<line x1="516.3" y1="112.70" x2="537.7" y2="112.70" stroke="#000" stroke-opacity="0.14" stroke-width="0.7"/>
<line x1="516.3" y1="110.26" x2="537.7" y2="110.26" stroke="#000" stroke-opacity="0.14" stroke-width="0.7"/>
<line x1="516.3" y1="107.83" x2="537.7" y2="107.83" stroke="#000" stroke-opacity="0.14" stroke-width="0.7"/>
<rect x="516.3" y="105.4" width="21.40" height="197.00" fill="none" stroke="#111" stroke-width="1.2"/>
<line x1="537.70" y1="106.00" x2="549.30" y2="106.00" stroke="#222" stroke-width="1.0" />
<line x1="537.70" y1="302.00" x2="549.30" y2="302.00" stroke="#222" stroke-width="1.0" />
<line x1="537.70" y1="125.20" x2="543.80" y2="125.20" stroke="#555" stroke-width="0.9" />
<line x1="537.70" y1="150.00" x2="543.80" y2="150.00" stroke="#555" stroke-width="0.9" />
<line x1="537.70" y1="181.10" x2="543.80" y2="181.10" stroke="#555" stroke-width="0.9" />
<line x1="537.70" y1="226.20" x2="543.80" y2="226.20" stroke="#555" stroke-width="0.9" />
<text x="550.0" y="105.5" font-size="8.8" fill="#111">100.0</text>
<text x="550.0" y="302.6" font-size="8.8" fill="#111">10.00</text>
<text x="516.8" y="87.6" font-size="10" fill="#111">V<tspan font-size="6" dy="2.3" dx="0.6">I</tspan><tspan font-size="10" dy="-2.3" dx="0.3"> (km/s)</tspan></text>
</g>
</svg>
</body></html>
